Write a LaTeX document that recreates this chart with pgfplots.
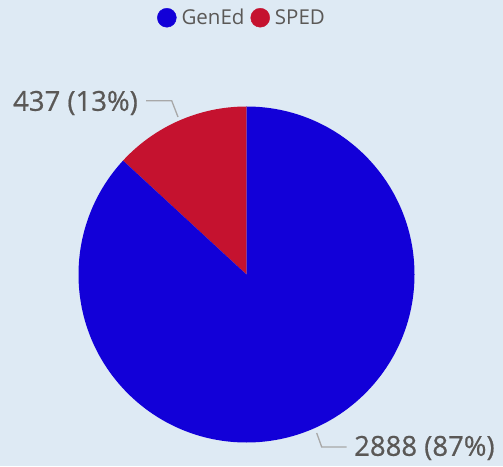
\documentclass[border=0pt]{standalone}
\usepackage{pgfplots}
\pgfplotsset{compat=1.18}
\usepackage{pgfplotstable}
\usepackage{fontspec}
\setmainfont{Open Sans}
\newfontfamily\labelfont[FakeBold=0.6]{Open Sans}
\definecolor{bg}{HTML}{DEEAF4}
\definecolor{gened}{HTML}{1200D8}
\definecolor{sped}{HTML}{C5122F}
\definecolor{txt}{HTML}{5A5856}
\definecolor{lead}{HTML}{A8A8A8}

\pgfplotstableread{
name value
GenEd 2888
SPED 437
}\piedata

\begin{document}
\begin{tikzpicture}
\pgfplotstablegetelem{0}{value}\of\piedata \let\va\pgfplotsretval
\pgfplotstablegetelem{1}{value}\of\piedata \let\vb\pgfplotsretval
\pgfmathsetmacro{\total}{\va+\vb}
\pgfmathsetmacro{\fb}{\vb/\total}
\pgfmathsetmacro{\angb}{360*\fb}
\pgfmathtruncatemacro{\pa}{round(100*(1-\fb))}
\pgfmathtruncatemacro{\pb}{round(100*\fb)}
\begin{axis}[
  width=503pt, height=466pt, scale only axis,
  xmin=0, xmax=503, ymin=0, ymax=466,
  axis lines=none, clip=false,
  legend columns=2,
  legend style={at={(axis cs:242,459)}, anchor=north, draw=none, fill=none,
    font=\fontsize{20.5}{23}\selectfont, text=txt, inner sep=0pt,
    /tikz/every even column/.append style={column sep=4pt}},
  legend image code/.code={\fill[#1] (0.2cm,0) circle (9.5pt);},
]
\fill[bg] (axis cs:0,0) rectangle (axis cs:503,466);
\addlegendimage{gened}
\addlegendentry{\hspace{3pt}GenEd}
\addlegendimage{sped}
\addlegendentry{\hspace{3pt}SPED}
\fill[sped] (axis cs:246.5,191.5) -- (axis cs:246.5,359.5)
  arc[start angle=90, end angle={90+\angb}, radius=168pt] -- cycle;
\fill[gened] (axis cs:246.5,191.5) -- (axis cs:246.5,359.5)
  arc[start angle=90, end angle={90+\angb-360}, radius=168pt] -- cycle;
\draw[lead, line width=1.3pt] (axis cs:146,365.3) -- (axis cs:171.7,365.3) -- (axis cs:178,349);
\draw[lead, line width=1.3pt] (axis cs:316.7,33) -- (axis cs:321.7,19) -- (axis cs:346.7,19);
\node[anchor=east, text=txt, font=\labelfont\fontsize{27.5}{30}\selectfont, inner sep=0pt]
  at (axis cs:138,363) {\vb\ (\pb\%)};
\node[anchor=west, text=txt, font=\labelfont\fontsize{27.5}{30}\selectfont, inner sep=0pt]
  at (axis cs:354,18) {\va\ (\pa\%)};
\end{axis}
\end{tikzpicture}
\end{document}
